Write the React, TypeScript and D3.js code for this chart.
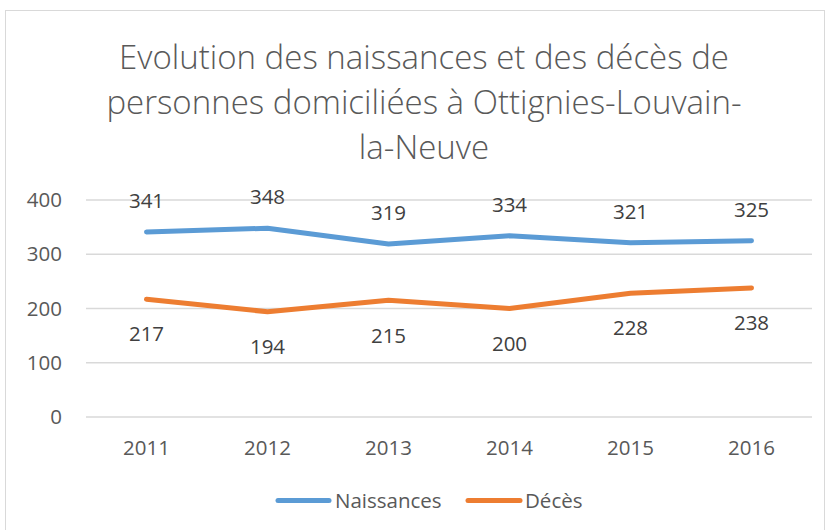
import React from "react";
import * as d3 from "d3";

const years = ["2011", "2012", "2013", "2014", "2015", "2016"];
const naissances = [341, 348, 319, 334, 321, 325];
const deces = [217, 194, 215, 200, 228, 238];
const yTicks = [0, 100, 200, 300, 400];
const titleLines = [
  "Evolution des naissances et des décès de",
  "personnes domiciliées à Ottignies-Louvain-",
  "la-Neuve",
];

const W = 829;
const H = 530;
const FONT = "'Open Sans', sans-serif";
const TXT = "#595959";
const BLUE = "#5B9BD5";
const ORANGE = "#ED7D31";
const FS = 20.5;

export default function App() {
  const x = d3.scaleBand<string>().domain(years).range([86, 812]);
  const y = d3.scaleLinear().domain([0, 400]).range([417, 200]);
  const cx = (d: string) => (x(d) as number) + x.bandwidth() / 2;
  const line = d3
    .line<number>()
    .x((_, i) => cx(years[i]))
    .y((v) => y(v));

  return (
    <svg
      width={W}
      height={H}
      style={{ position: "absolute", left: 0, top: 0, background: "#fff" }}
      fontFamily={FONT}
    >
      <rect x={5.5} y={10.5} width={819} height={540} fill="#fff" stroke="#D9D9D9" strokeWidth={1} />
      {titleLines.map((t, i) => (
        <text
          key={i}
          x={424}
          y={69 + i * 45}
          textAnchor="middle"
          fontSize={33}
          fontWeight={300}
          fill={TXT}
        >
          {t}
        </text>
      ))}
      {yTicks.map((t) => (
        <g key={t}>
          <line x1={86} x2={812} y1={y(t)} y2={y(t)} stroke="#D9D9D9" strokeWidth={1.3} />
          <text x={62} y={y(t)} dy="0.35em" textAnchor="end" fontSize={FS} fill={TXT}>
            {t}
          </text>
        </g>
      ))}
      {years.map((yr) => (
        <text key={yr} x={cx(yr)} y={448} dy="0.35em" textAnchor="middle" fontSize={FS} fill={TXT}>
          {yr}
        </text>
      ))}
      <path d={line(naissances) || ""} fill="none" stroke={BLUE} strokeWidth={5} strokeLinecap="round" strokeLinejoin="round" />
      <path d={line(deces) || ""} fill="none" stroke={ORANGE} strokeWidth={5} strokeLinecap="round" strokeLinejoin="round" />
      {naissances.map((v, i) => (
        <text key={"n" + i} x={cx(years[i])} y={y(v) - 31} dy="0.35em" textAnchor="middle" fontSize={FS} fill="#404040">
          {v}
        </text>
      ))}
      {deces.map((v, i) => (
        <text key={"d" + i} x={cx(years[i])} y={y(v) + 35} dy="0.35em" textAnchor="middle" fontSize={FS} fill="#404040">
          {v}
        </text>
      ))}
      <g>
        <line x1={278} x2={329} y1={500.5} y2={500.5} stroke={BLUE} strokeWidth={5} strokeLinecap="round" />
        <text x={335} y={500.5} dy="0.35em" fontSize={FS} fill={TXT}>Naissances</text>
        <line x1={468} x2={520} y1={500.5} y2={500.5} stroke={ORANGE} strokeWidth={5} strokeLinecap="round" />
        <text x={525} y={500.5} dy="0.35em" fontSize={FS} fill={TXT}>Décès</text>
      </g>
    </svg>
  );
}
